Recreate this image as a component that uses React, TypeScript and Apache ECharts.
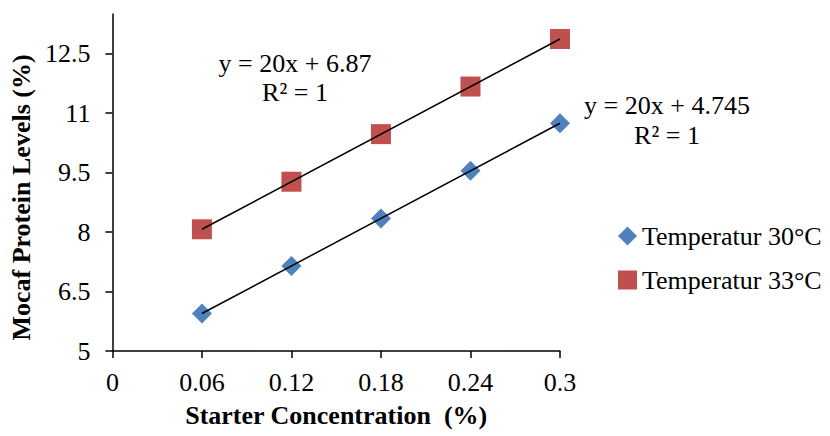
import React, { useEffect, useRef } from "react";
import * as echarts from "echarts";

const starterConc = [0.06, 0.12, 0.18, 0.24, 0.3];
const temp30 = [5.945, 7.145, 8.345, 9.545, 10.745];
const temp33 = [8.07, 9.27, 10.47, 11.67, 12.87];
const xTicks = [0, 0.06, 0.12, 0.18, 0.24, 0.3];
const yTicks = [5, 6.5, 8, 9.5, 11, 12.5];
const seriesNames = ["Temperatur 30°C", "Temperatur 33°C"];
const eq30 = "y = 20x + 4.745\nR² = 1";
const eq33 = "y = 20x + 6.87\nR² = 1";

const FONT = "Liberation Serif, serif";

export default function App() {
  const ref = useRef<HTMLDivElement>(null);
  useEffect(() => {
    if (!ref.current) return;
    const chart = echarts.init(ref.current, null, { renderer: "svg" });
    const pts30 = starterConc.map((x, i) => [x, temp30[i]]);
    const pts33 = starterConc.map((x, i) => [x, temp33[i]]);
    const trend = (pts: number[][]) => [pts[0], pts[pts.length - 1]];
    chart.setOption({
      animation: false,
      backgroundColor: "#ffffff",
      textStyle: { fontFamily: FONT, color: "#000" },
      grid: { left: 110, right: 270, top: 14, bottom: 85, containLabel: false },
      legend: {
        data: seriesNames,
        orient: "vertical",
        left: 613,
        top: 218,
        itemWidth: 19,
        itemHeight: 19,
        itemGap: 18,
        textStyle: { fontFamily: FONT, fontSize: 26, color: "#000" },
      },
      xAxis: {
        type: "value",
        min: 0,
        max: 0.3,
        interval: 0.06,
        name: "Starter Concentration  (%)",
        nameLocation: "middle",
        nameGap: 51,
        nameTextStyle: { fontFamily: FONT, fontSize: 26, fontWeight: "bold", color: "#000" },
        axisLine: { show: true, lineStyle: { color: "#000", width: 1.5 } },
        axisTick: { show: true, length: 7, inside: false, customValues: xTicks, lineStyle: { color: "#000", width: 1.5 } },
        axisLabel: { customValues: xTicks, margin: 18, fontFamily: FONT, fontSize: 26, color: "#000" },
        splitLine: { show: false },
      },
      yAxis: {
        type: "value",
        min: 5,
        max: 13.5,
        interval: 1.5,
        name: "Mocaf Protein Levels (%)",
        nameLocation: "middle",
        nameRotate: 90,
        nameGap: 63,
        nameTextStyle: { fontFamily: FONT, fontSize: 26, fontWeight: "bold", color: "#000", padding: [0, 30, 0, 0] },
        axisLine: { show: true, lineStyle: { color: "#000", width: 1.5 } },
        axisTick: { show: true, length: 7, inside: false, customValues: yTicks, lineStyle: { color: "#000", width: 1.5 } },
        axisLabel: { customValues: yTicks, margin: 22, fontFamily: FONT, fontSize: 26, color: "#000" },
        splitLine: { show: false },
      },
      series: [
        {
          name: seriesNames[0],
          type: "scatter",
          data: pts30,
          symbol: "diamond",
          symbolSize: 20,
          itemStyle: { color: "#4F81BD", opacity: 1 },
          z: 2,
        },
        {
          name: seriesNames[1],
          type: "scatter",
          data: pts33,
          symbol: "rect",
          symbolSize: 20,
          itemStyle: { color: "#C0504D", opacity: 1 },
          z: 2,
        },
        {
          name: "trend30",
          type: "line",
          data: trend(pts30),
          showSymbol: false,
          symbol: "none",
          lineStyle: { color: "#000", width: 1.5 },
          z: 3,
          silent: true,
        },
        {
          name: "trend33",
          type: "line",
          data: trend(pts33),
          showSymbol: false,
          symbol: "none",
          lineStyle: { color: "#000", width: 1.5 },
          z: 3,
          silent: true,
        },
      ],
      graphic: [
        {
          type: "text",
          x: 295,
          y: 78,
          style: {
            text: eq33,
            fontFamily: FONT,
            fontSize: 26,
            lineHeight: 29,
            fill: "#000",
            align: "center",
            verticalAlign: "middle",
          },
        },
        {
          type: "text",
          x: 667,
          y: 120,
          style: {
            text: eq30,
            fontFamily: FONT,
            fontSize: 26,
            lineHeight: 30,
            fill: "#000",
            align: "center",
            verticalAlign: "middle",
          },
        },
      ],
    });
    return () => chart.dispose();
  }, []);
  return (
    <div
      ref={ref}
      style={{ position: "fixed", left: 0, top: 0, width: 830, height: 436, background: "#fff" }}
    />
  );
}
